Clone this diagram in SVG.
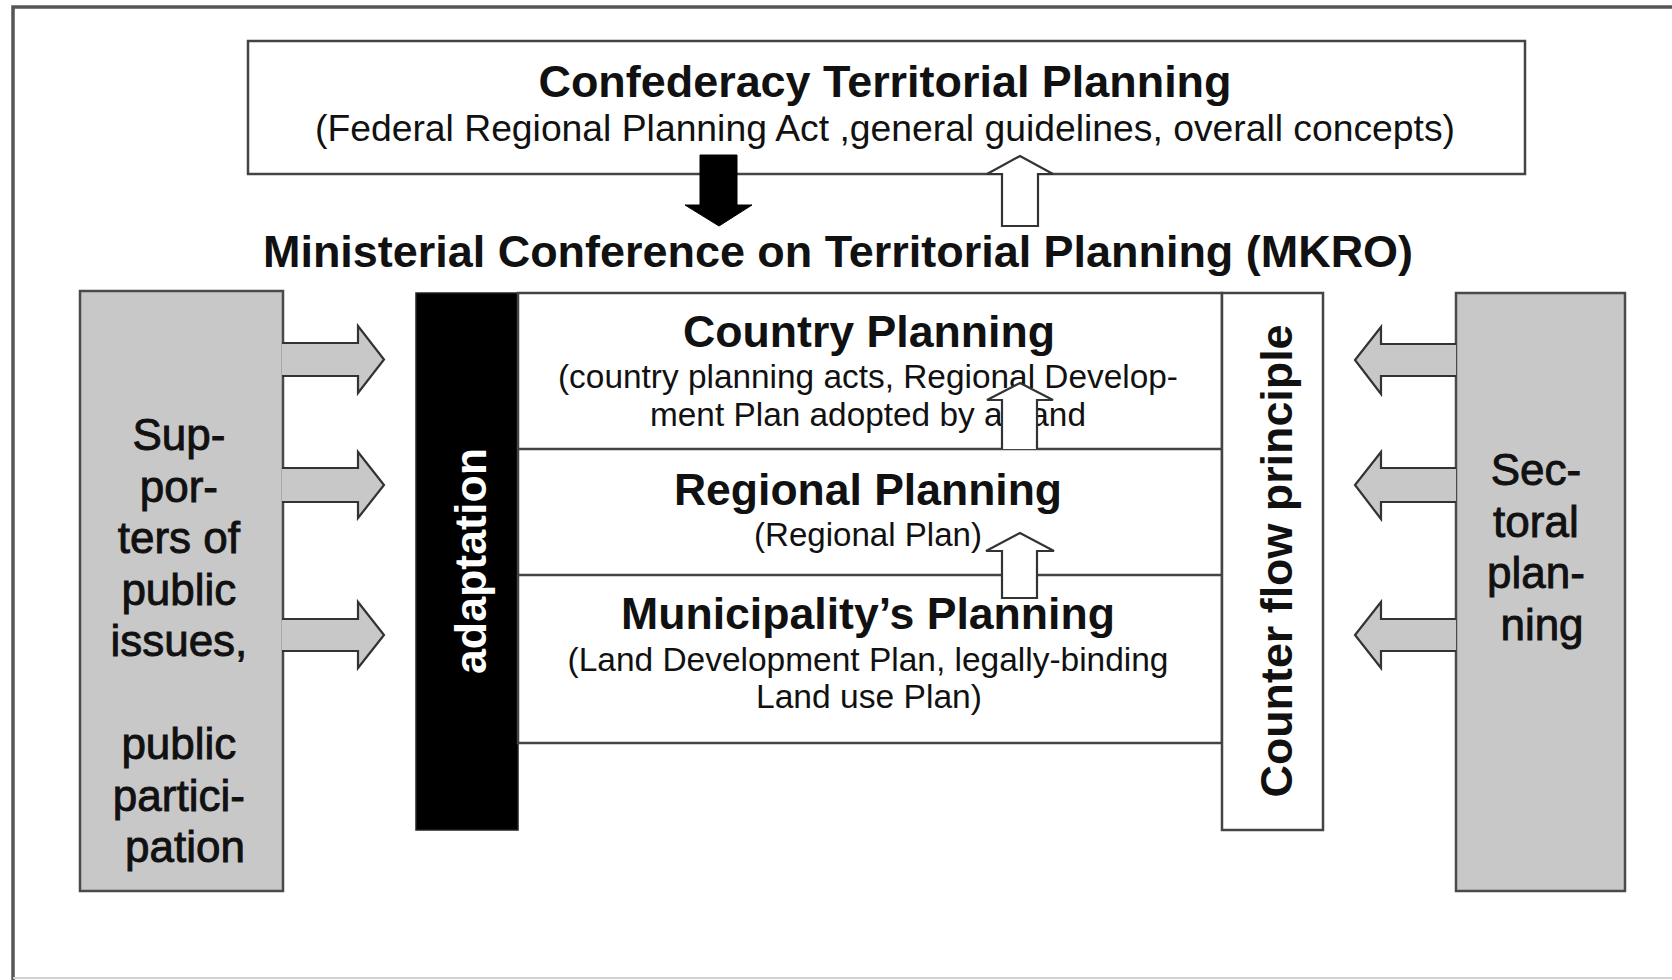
<svg xmlns="http://www.w3.org/2000/svg" width="1672" height="980" viewBox="0 0 1672 980">
<style>
.box{fill:#fff;stroke:#444;stroke-width:2.5}
.gray{fill:#c8c8c8;stroke:#4a4a4a;stroke-width:2.5}
.t{font-family:"Liberation Sans",Arial,sans-serif;fill:#111;text-anchor:middle}
.h{font-weight:bold;font-size:44px}
.s{font-size:33px}
.side{font-size:44px;stroke:#111;stroke-width:0.9}
.garrow{fill:#c8c8c8;stroke:#333;stroke-width:2.2;stroke-linejoin:miter}
.warrow{fill:#fff;stroke:#333;stroke-width:2.2}
.div{stroke:#444;stroke-width:2.5;fill:none}
</style>
<rect width="1672" height="980" fill="#fff"/>
<g id="frame" fill="none">
<path d="M13,980 V7 H1672" stroke="#555" stroke-width="3.5"/>
<path d="M13,978 H1672" stroke="#d0d0d0" stroke-width="2"/>
</g>
<g id="confederacy">
<rect class="box" x="248" y="41" width="1277" height="133"/>
<text class="t h" x="885" y="97" textLength="693" lengthAdjust="spacingAndGlyphs">Confederacy Territorial Planning</text>
<text class="t" x="885" y="141" font-size="36" textLength="1140" lengthAdjust="spacingAndGlyphs">(Federal Regional Planning Act ,general guidelines, overall concepts)</text>
</g>
<g id="mkro">
<text class="t h" x="838" y="267" textLength="1150" lengthAdjust="spacingAndGlyphs">Ministerial Conference on Territorial Planning (MKRO)</text>
</g>
<g id="supporters">
<rect class="gray" x="80" y="291" width="203" height="600"/>
<text class="t side" x="185">
<tspan x="185" y="450">Sup-</tspan>
<tspan x="185" y="501.5">por-</tspan>
<tspan x="185" y="553">ters of</tspan>
<tspan x="185" y="604.5">public</tspan>
<tspan x="185" y="656">issues,</tspan>
<tspan x="185" y="759">public</tspan>
<tspan x="185" y="810.5">partici-</tspan>
<tspan x="185" y="862">pation</tspan>
</text>
</g>
<g id="adaptation">
<rect x="416" y="293" width="102" height="537" fill="#000" stroke="#222" stroke-width="1.5"/>
<text class="t h" transform="translate(486,561) rotate(-90)" x="0" y="0" style="fill:#fff" font-size="45" textLength="226" lengthAdjust="spacingAndGlyphs">adaptation</text>
</g>
<g id="planning-levels">
<rect class="box" x="518" y="293" width="704" height="450"/>
<line class="div" x1="518" y1="449" x2="1222" y2="449"/>
<line class="div" x1="518" y1="575" x2="1222" y2="575"/>
</g>
<g id="country-planning">
<text class="t h" x="869" y="347" textLength="372" lengthAdjust="spacingAndGlyphs">Country Planning</text>
<text class="t s" x="868" y="388" textLength="620" lengthAdjust="spacingAndGlyphs">(country planning acts, Regional Develop-</text>
<text class="t s" x="868" y="426" textLength="436" lengthAdjust="spacingAndGlyphs">ment Plan adopted by a Land</text>
</g>
<g id="regional-planning">
<text class="t h" x="868" y="505" textLength="388" lengthAdjust="spacingAndGlyphs">Regional Planning</text>
<text class="t s" x="868" y="546" textLength="228" lengthAdjust="spacingAndGlyphs">(Regional Plan)</text>
</g>
<g id="municipality-planning">
<text class="t h" x="868" y="629" textLength="494" lengthAdjust="spacingAndGlyphs">Municipality’s Planning</text>
<text class="t s" x="868" y="671" textLength="601" lengthAdjust="spacingAndGlyphs">(Land Development Plan, legally-binding</text>
<text class="t s" x="869" y="708" textLength="226" lengthAdjust="spacingAndGlyphs">Land use Plan)</text>
</g>
<g id="counter-flow">
<rect class="box" x="1222" y="293" width="101" height="537"/>
<text class="t h" transform="translate(1292,561) rotate(-90)" x="0" y="0" font-size="45" textLength="473" lengthAdjust="spacingAndGlyphs">Counter flow principle</text>
</g>
<g id="sectoral">
<rect class="gray" x="1456" y="293" width="169" height="598"/>
<text class="t side" x="1542">
<tspan x="1542" y="485">Sec-</tspan>
<tspan x="1542" y="536.5">toral</tspan>
<tspan x="1542" y="588">plan-</tspan>
<tspan x="1542" y="639.5">ning</tspan>
</text>
</g>
<g id="connectors">
<path d="M700,155 H737 V205 H752 L719,226 L685,205 H700 Z" fill="#000" stroke="#000" stroke-width="1"/>
<path class="warrow" d="M1002,226 V174 H987 L1020,156 L1053,174 H1038 V226 Z"/>
<path class="warrow" d="M1002,449 V400 H987 L1020,383 L1053,400 H1037 V449"/>
<path class="warrow" d="M1002,598 V551 H986 L1020,533 L1054,551 H1037 V598 Z"/>
<path class="garrow" d="M282,343 H358 V326 L384,359.5 L358,393 V376 H282"/>
<path class="garrow" d="M282,468 H358 V452 L384,485 L358,518 V502 H282"/>
<path class="garrow" d="M282,619 H358 V602 L384,635 L358,668 V651 H282"/>
<path class="garrow" d="M1456,344 H1381 V327 L1355,360 L1381,394 V376 H1456"/>
<path class="garrow" d="M1456,468 H1381 V452 L1355,485 L1381,519 V502 H1456"/>
<path class="garrow" d="M1456,619 H1381 V602 L1355,635 L1381,668 V651 H1456"/>
</g>
</svg>
